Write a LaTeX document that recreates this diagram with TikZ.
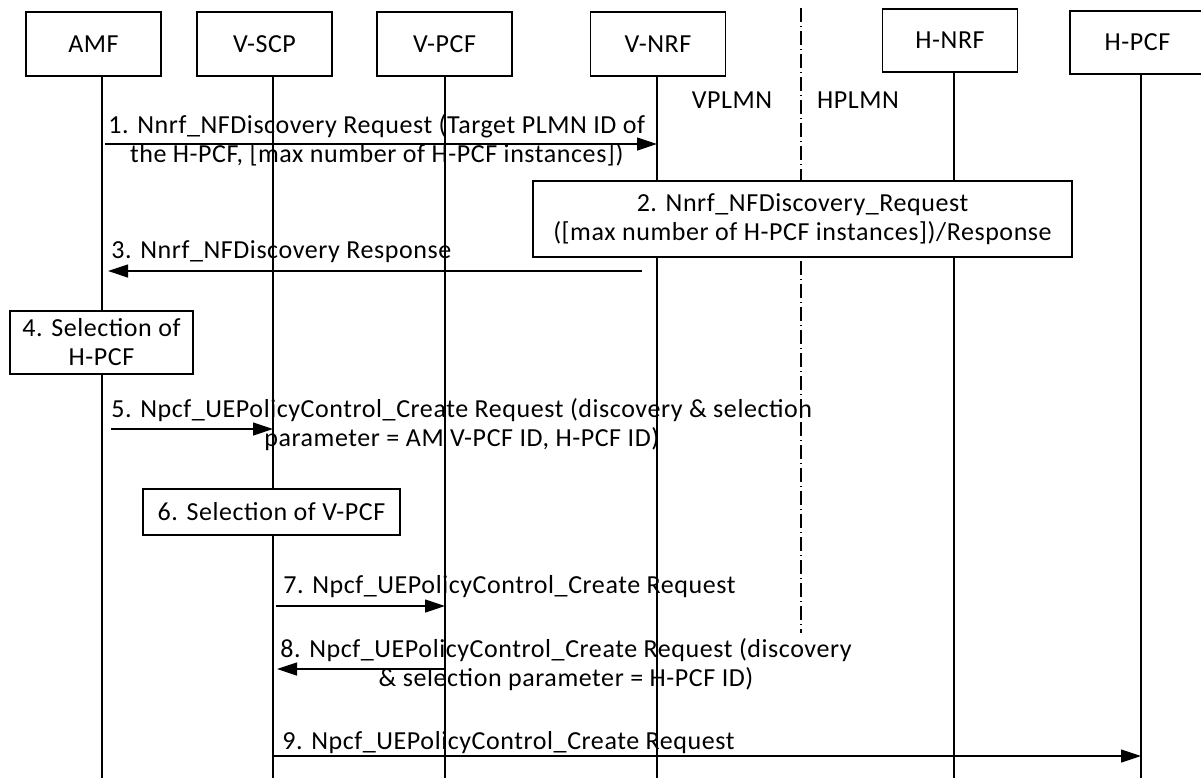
\documentclass[tikz,border=0pt]{standalone}
\usepackage{fontspec}
\setmainfont{Carlito}[LetterSpace=2.2]
\usetikzlibrary{arrows.meta}

\begin{document}
\begin{tikzpicture}[
x=0.5pt, y=-0.5pt,
every node/.style={font=\fontsize{13}{14.5}\selectfont},
entity/.style={rectangle, draw, fill=white, line width=0.6pt, minimum width=67.5pt, minimum height=32pt, inner sep=0pt},
action/.style={rectangle, draw, fill=white, line width=0.6pt, align=center, inner sep=0pt},
lifeline/.style={line width=0.6pt},
plmnborder/.style={line width=0.6pt, dash pattern=on 7pt off 2pt on 0.5pt off 2pt},
msg/.style={line width=0.6pt, -{Triangle[length=10pt,width=6.5pt]}},
msgtext/.style={align=center, anchor=base west, inner sep=0pt},
]
\useasboundingbox (0,0) rectangle (1201,778);
\coordinate (bottom) at (0,778);

% lifelines
\foreach \n/\x/\y in {amf/102/76, vscp/273/76, vpcf/445/76, vnrf/657/76, hnrf/954/72, hpcf/1141/74} {
  \coordinate (\n-l) at (\x,\y);
  \draw[lifeline] (\n-l) -- (\n-l |- bottom);
}

% VPLMN / HPLMN border
\coordinate (border-top) at (801,8);
\coordinate (border-bot) at (801,633);
\draw[plmnborder] (border-top) -- (border-bot);
\node (vplmn) at (732,100) {VPLMN};
\node (hplmn) at (858,100) {HPLMN};

% network functions
\node[entity] (amf) at (93.5,44) {AMF};
\node[entity] (vscp) at (264.5,44) {V-SCP};
\node[entity] (vpcf) at (444.5,44) {V-PCF};
\node[entity] (vnrf) at (658,44) {V-NRF};
\node[entity, minimum height=31.5pt] (hnrf) at (950,40.5) {H-NRF};
\node[entity, minimum height=31.5pt] (hpcf) at (1137.5,42.5) {H-PCF};

% local actions
\node[action, minimum width=269.5pt, minimum height=38pt] (disc) at (802.5,219)
  {2. Nnrf\_NFDiscovery\_Request\\ ([max number of H-PCF instances])/Response};
\node[action, minimum width=91.5pt, minimum height=31.5pt] (selh) at (101.5,342.5)
  {4. Selection of\\H-PCF};
\node[action, minimum width=128.5pt, minimum height=23pt] (selv) at (271.5,512)
  {6. Selection of V-PCF};

% messages (base = last line)
\node[msgtext] (m1) at (108,162) {1. Nnrf\_NFDiscovery Request (Target PLMN ID of\\the H-PCF, [max number of H-PCF instances])};
\node[msgtext] (m3) at (111,258) {3. Nnrf\_NFDiscovery Response};
\node[msgtext] (m5) at (111,446) {5. Npcf\_UEPolicyControl\_Create Request (discovery \& selection\\parameter = AM V-PCF ID, H-PCF ID)};
\node[msgtext] (m7) at (283,593) {7. Npcf\_UEPolicyControl\_Create Request};
\node[msgtext] (m8) at (280,686) {8. Npcf\_UEPolicyControl\_Create Request (discovery\\\& selection parameter = H-PCF ID)};
\node[msgtext] (m9) at (282,749) {9. Npcf\_UEPolicyControl\_Create Request};

\coordinate (r1) at (0,144);
\coordinate (r3) at (0,271);
\coordinate (r5) at (0,429);
\coordinate (r7) at (0,606);
\coordinate (r8) at (0,669);
\coordinate (r9) at (0,756);
\draw[msg, shorten <=1.5pt] (amf-l |- r1) -- (vnrf-l |- r1);
\draw[msg, shorten <=7.5pt, shorten >=3pt] (vnrf-l |- r3) -- (amf-l |- r3);
\draw[msg, shorten <=4.5pt] (amf-l |- r5) -- (vscp-l |- r5);
\draw[msg, shorten <=1.5pt] (vscp-l |- r7) -- (vpcf-l |- r7);
\draw[msg, shorten >=2pt] (vpcf-l |- r8) -- (vscp-l |- r8);
\draw[msg] (vscp-l |- r9) -- (hpcf-l |- r9);
\end{tikzpicture}
\end{document}
